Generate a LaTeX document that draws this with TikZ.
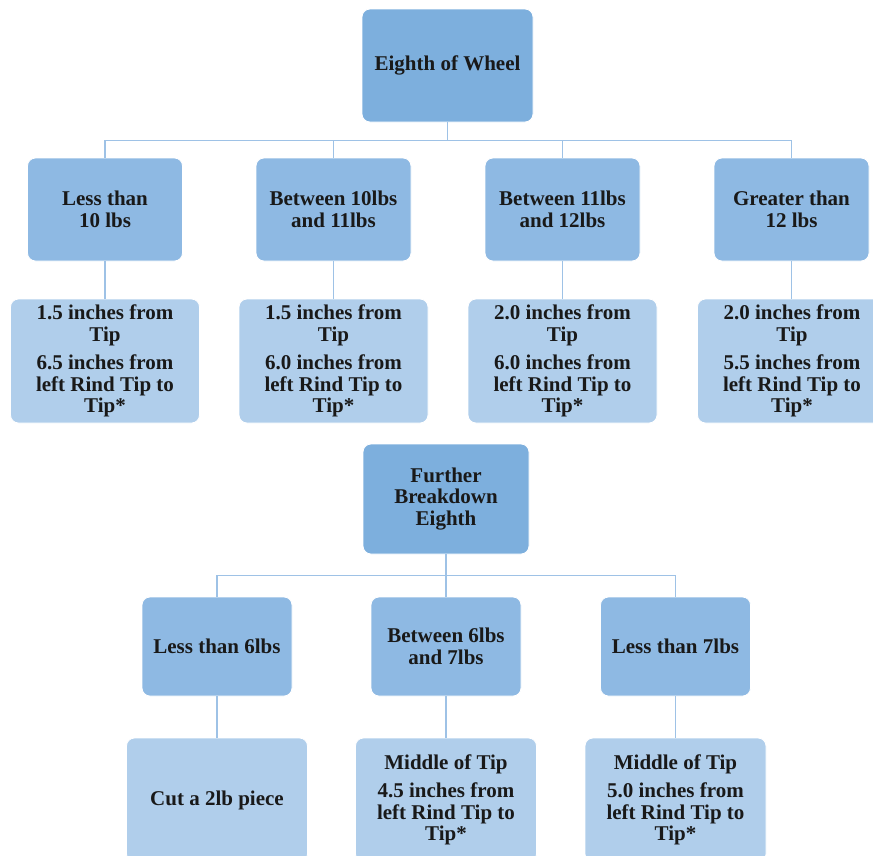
\documentclass[tikz,border=0pt]{standalone}
\usepackage{fontspec}
\setmainfont{Liberation Serif}
\definecolor{rootc}{HTML}{7DAFDD}
\definecolor{midc}{HTML}{8EB9E3}
\definecolor{leafc}{HTML}{B0CEEB}
\definecolor{linec}{HTML}{9EC2E6}
\tikzset{
  boxbase/.style={rectangle, rounded corners=8pt, draw=white, line width=0.8pt,
    align=center, inner sep=0pt, font=\fontsize{21}{21.5}\selectfont\bfseries, text=black!90},
  rootbox/.style={boxbase, fill=rootc},
  midbox/.style={boxbase, fill=midc},
  leafbox/.style={boxbase, fill=leafc},
  conn/.style={draw=linec, line width=1.5pt}
}
\begin{document}
\begin{tikzpicture}[x=1pt,y=-1pt]
\path[use as bounding box, clip] (0,0) rectangle (873,855);
% top tree
\node[rootbox, minimum width=171pt, minimum height=113pt] (r1) at (447.5,65.5) {Eighth of Wheel};
\node[midbox, minimum width=155pt, minimum height=103pt] (a1) at (105,209.5) {Less than\\10 lbs};
\node[midbox, minimum width=155pt, minimum height=103pt] (a2) at (333.5,209.5) {Between 10lbs\\and 11lbs};
\node[midbox, minimum width=155pt, minimum height=103pt] (a3) at (562.5,209.5) {Between 11lbs\\and 12lbs};
\node[midbox, minimum width=155pt, minimum height=103pt] (a4) at (791.5,209.5) {Greater than\\12 lbs};
\node[leafbox, minimum width=189pt, minimum height=124pt] (b1) at (105,361) {1.5 inches from\\Tip\\[7pt]6.5 inches from\\left Rind Tip to\\Tip*};
\node[leafbox, minimum width=189pt, minimum height=124pt] (b2) at (333.5,361) {1.5 inches from\\Tip\\[7pt]6.0 inches from\\left Rind Tip to\\Tip*};
\node[leafbox, minimum width=189pt, minimum height=124pt] (b3) at (562.5,361) {2.0 inches from\\Tip\\[7pt]6.0 inches from\\left Rind Tip to\\Tip*};
\node[leafbox, minimum width=189pt, minimum height=124pt] (b4) at (792,361) {2.0 inches from\\Tip\\[7pt]5.5 inches from\\left Rind Tip to\\Tip*};
\foreach \i in {1,2,3,4}{
  \draw[conn] (r1.south) -- ++(0,18) -| (a\i.north);
  \draw[conn] (a\i.south) -- (a\i.south |- b\i.north);
}
% bottom tree
\node[rootbox, minimum width=166pt, minimum height=110pt] (r2) at (446,499) {Further\\Breakdown\\Eighth};
\node[midbox, minimum width=150pt, minimum height=99pt] (c1) at (217,646.5) {Less than 6lbs};
\node[midbox, minimum width=150pt, minimum height=99pt] (c2) at (446,646.5) {Between 6lbs\\and 7lbs};
\node[midbox, minimum width=150pt, minimum height=99pt] (c3) at (675.5,646.5) {Less than 7lbs};
\node[leafbox, minimum width=181pt, minimum height=124pt] (d1) at (217,800) {Cut a 2lb piece};
\node[leafbox, minimum width=181pt, minimum height=124pt] (d2) at (446,800) {Middle of Tip\\[7pt]4.5 inches from\\left Rind Tip to\\Tip*};
\node[leafbox, minimum width=181pt, minimum height=124pt] (d3) at (675.5,800) {Middle of Tip\\[7pt]5.0 inches from\\left Rind Tip to\\Tip*};
\foreach \i in {1,2,3}{
  \draw[conn] (r2.south) -- ++(0,21) -| (c\i.north);
  \draw[conn] (c\i.south) -- (c\i.south |- d\i.north);
}
\end{tikzpicture}
\end{document}
